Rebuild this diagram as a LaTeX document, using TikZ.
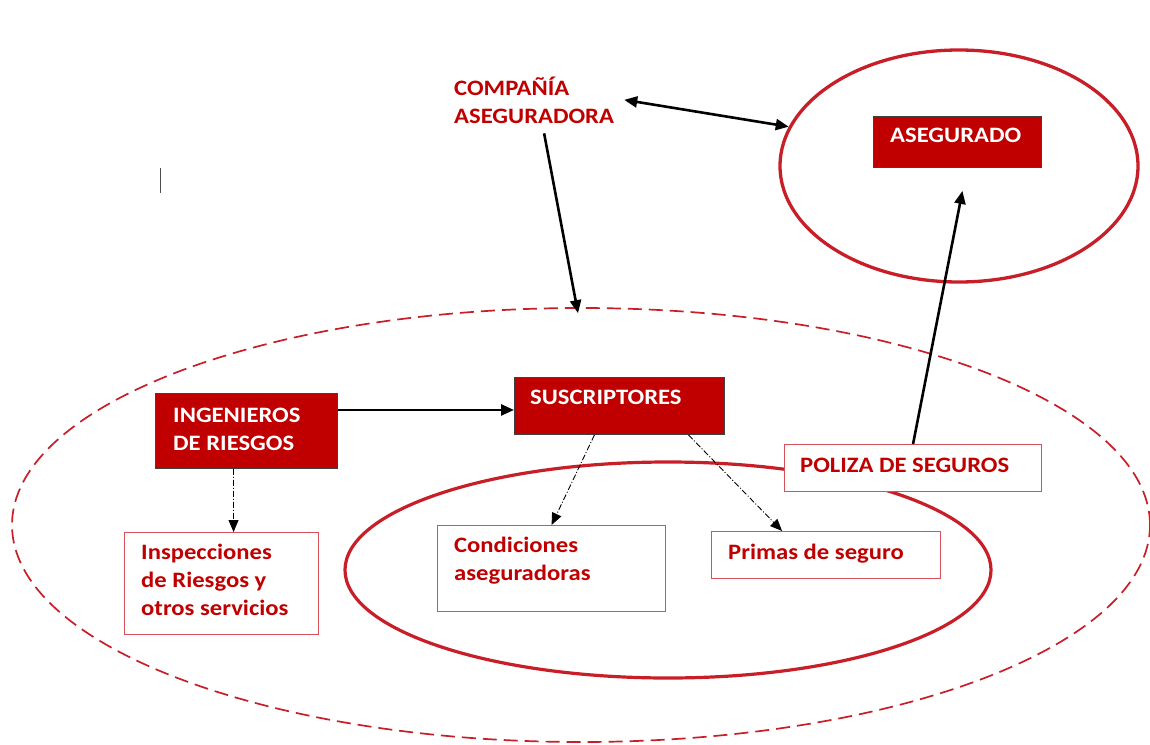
\documentclass[tikz,border=0pt]{standalone}
\usepackage{fontspec}
\setmainfont{Carlito}[FakeStretch=1.12]
\usetikzlibrary{arrows.meta,calc,shapes.geometric}
\definecolor{fillred}{HTML}{C00000}
\definecolor{textred}{HTML}{C00000}
\definecolor{linered}{HTML}{C81E28}
\definecolor{edgered}{HTML}{D8505A}
\tikzset{
  headtip/.tip={Triangle[length=13pt,width=11pt]},
  darkbox/.style={draw=black!75, line width=0.9pt, fill=fillred, inner sep=0, anchor=north west},
  whitebox/.style={draw=edgered, line width=1.1pt, fill=white, inner sep=0, anchor=north west},
  boxtext/.style={font=\bfseries\fontsize{22}{28}\selectfont, inner sep=0, anchor=base west, align=left},
  arrowline/.style={line width=2.6pt, -headtip},
  dotline/.style={line width=0.9pt, dash pattern=on 6pt off 2pt on 1pt off 2pt, -{Triangle[length=12pt,width=10pt]}}
}
\begin{document}
\begin{tikzpicture}[x=1pt,y=-1pt]
  \useasboundingbox (0,0) rectangle (1150,744);

  % zones
  \begin{scope}
    \clip (0,0) rectangle (1150,744);
    \node[ellipse, draw=linered, line width=1.7pt, dash pattern=on 14pt off 7pt,
      minimum width=1138pt, minimum height=434pt, inner sep=0] (outer) at (581,525) {};
  \end{scope}
  \node[ellipse, draw=linered, line width=3.2pt, minimum width=646pt, minimum height=216pt, inner sep=0] (inner) at (668,570) {};
  \node[ellipse, draw=linered, line width=3.3pt, minimum width=358pt, minimum height=232pt, inner sep=0] (circ) at (959,166) {};

  % boxes
  \node[darkbox, minimum width=168pt, minimum height=51pt] (aseg) at (873,116) {};
  \node[darkbox, minimum width=182pt, minimum height=75pt] (ing) at (155,393) {};
  \node[darkbox, minimum width=210pt, minimum height=57pt] (susc) at (514,377) {};
  \node[whitebox, minimum width=194pt, minimum height=102pt] (insp) at (124,532) {};
  \node[whitebox, minimum width=228pt, minimum height=86pt] (cond) at (437,525) {};
  \node[whitebox, minimum width=229pt, minimum height=47pt] (prim) at (711,531) {};
  \node[whitebox, minimum width=257pt, minimum height=47pt] (pol) at (784,444) {};

  % texts (base = last line)
  \node[boxtext, text=textred] (comp) at (454,123) {COMPAÑÍA\\ASEGURADORA};
  \node[boxtext, text=white] (asegtxt) at (890,142) {ASEGURADO};
  \node[boxtext, text=white] (ingtxt) at (173,450) {INGENIEROS\\DE RIESGOS};
  \node[boxtext, text=white] (susctxt) at (530,404) {SUSCRIPTORES};
  \node[boxtext, text=textred] (insptxt) at (141,615) {Inspecciones\\de Riesgos y\\otros servicios};
  \node[boxtext, text=textred] (condtxt) at (454,580) {Condiciones\\aseguradoras};
  \node[boxtext, text=textred] (primtxt) at (728,559) {Primas de seguro};
  \node[boxtext, text=textred] (poltxt) at (800,472) {POLIZA DE SEGUROS};

  % connectors
  \draw[arrowline, headtip-headtip] ($(comp.east)+(10,0)$) -- (circ.167);
  \draw[arrowline] ($(comp.south)+(10,10)$) -- ($(outer.north)+(-3,6)$);
  \draw[arrowline] ([yshift=21pt]ing.east) -- ([yshift=21pt]ing.east -| susc.west);
  \draw[arrowline] (pol.north) -- ($(aseg.south)+(5,23)$);
  \draw[dotline] ($(ing.south)+(-13,0)$) -- ($(insp.north)+(12,0)$);
  \draw[dotline] ($(susc.south)+(-25,0)$) -- (cond.north);
  \draw[dotline] ($(susc.south)+(69,0)$) -- ($(prim.north)+(-44,0)$);

  % cursor mark
  \draw[line width=1pt, black!70] (160,168) -- (160,193);
\end{tikzpicture}
\end{document}
